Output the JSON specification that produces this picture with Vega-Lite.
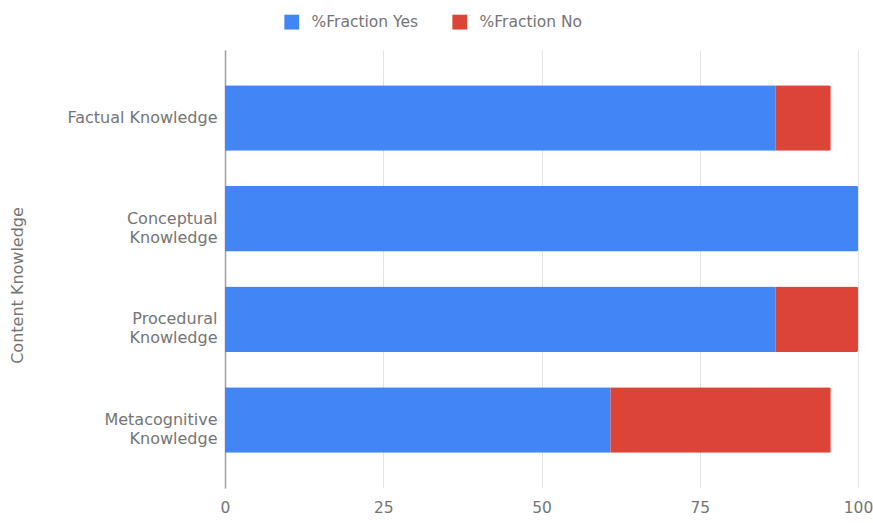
{
  "$schema": "https://vega.github.io/schema/vega-lite/v6.json",
  "autosize": {"type": "none"},
  "padding": {"left": 225, "top": 50, "right": 15, "bottom": 35},
  "width": 633,
  "height": 438,
  "background": "white",
  "config": {
    "font": "DejaVu Sans",
    "view": {"stroke": null}
  },
  "data": {
    "values": [
      {"knowledge": "Factual Knowledge", "series": "%Fraction Yes", "value": 87.0},
      {"knowledge": "Factual Knowledge", "series": "%Fraction No", "value": 8.7},
      {"knowledge": "Conceptual Knowledge", "series": "%Fraction Yes", "value": 100},
      {"knowledge": "Conceptual Knowledge", "series": "%Fraction No", "value": 0},
      {"knowledge": "Procedural Knowledge", "series": "%Fraction Yes", "value": 87.0},
      {"knowledge": "Procedural Knowledge", "series": "%Fraction No", "value": 13.0},
      {"knowledge": "Metacognitive Knowledge", "series": "%Fraction Yes", "value": 60.9},
      {"knowledge": "Metacognitive Knowledge", "series": "%Fraction No", "value": 34.8}
    ]
  },
  "mark": {"type": "bar", "cornerRadiusEnd": 1.5},
  "encoding": {
    "y": {
      "field": "knowledge",
      "type": "nominal",
      "sort": ["Factual Knowledge", "Conceptual Knowledge", "Procedural Knowledge", "Metacognitive Knowledge"],
      "scale": {"paddingInner": 0.35, "paddingOuter": 0.35},
      "axis": {
        "title": "Content Knowledge",
        "titleFont": "DejaVu Sans",
        "titleFontSize": 16,
        "titleFontWeight": "normal",
        "titleColor": "#757575",
        "titleX": -200,
        "titleY": 235,
        "labelExpr": "datum.label == 'Factual Knowledge' ? datum.label : split(datum.label, ' ')",
        "labelFontSize": 16,
        "labelColor": "#757575",
        "labelLineHeight": 19,
        "labelPadding": 8,
        "ticks": false,
        "domain": true,
        "domainColor": "#9e9e9e",
        "domainWidth": 1.5,
        "grid": false
      }
    },
    "x": {
      "field": "value",
      "type": "quantitative",
      "stack": "zero",
      "scale": {"domain": [0, 100], "nice": false},
      "axis": {
        "title": null,
        "values": [0, 25, 50, 75, 100],
        "labelFontSize": 15.5,
        "labelColor": "#757575",
        "labelPadding": 12,
        "ticks": false,
        "domain": false,
        "grid": true,
        "gridColor": "#e3e3e3",
        "labelFlush": false
      }
    },
    "color": {
      "field": "series",
      "type": "nominal",
      "scale": {"domain": ["%Fraction Yes", "%Fraction No"], "range": ["#4285f4", "#db4437"]},
      "legend": {
        "title": null,
        "orient": "none",
        "direction": "horizontal",
        "legendX": 59,
        "legendY": -36,
        "symbolType": "square",
        "symbolSize": 220,
        "symbolStrokeWidth": 0,
        "symbolOpacity": 1,
        "labelFontSize": 15.5,
        "labelColor": "#757575",
        "labelOffset": 12,
        "columnPadding": 33
      }
    },
    "order": {"field": "series", "sort": "descending"}
  }
}
